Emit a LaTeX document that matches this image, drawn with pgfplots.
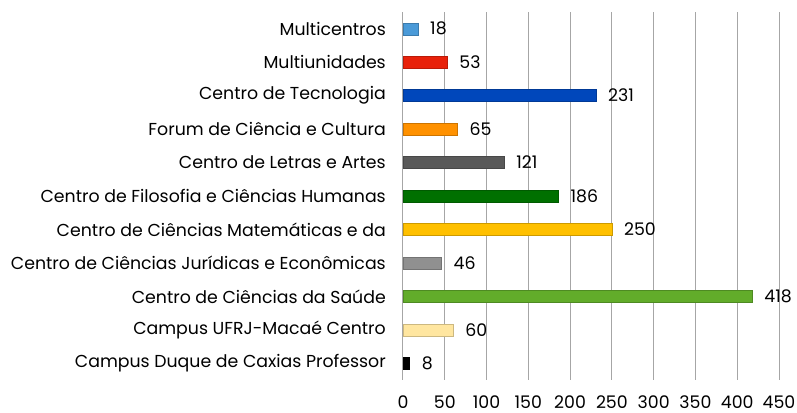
\documentclass[border=0pt]{standalone}
\usepackage{pgfplots}
\pgfplotsset{compat=1.18}
\usepackage{fontspec}
\setmainfont{Poppins}
\definecolor{c1}{HTML}{4A9AD8}
\definecolor{c2}{HTML}{E8210A}
\definecolor{c3}{HTML}{0047BB}
\definecolor{c4}{HTML}{FF9100}
\definecolor{c5}{HTML}{595959}
\definecolor{c6}{HTML}{007000}
\definecolor{c7}{HTML}{FFC000}
\definecolor{c8}{HTML}{909090}
\definecolor{c9}{HTML}{62AC2A}
\definecolor{c10}{HTML}{FFE6A0}
\definecolor{c11}{HTML}{000000}
\definecolor{gridc}{HTML}{A6A6A6}
\begin{document}
\begin{tikzpicture}
\useasboundingbox (0,0) rectangle (797bp,413bp);
\begin{axis}[
  at={(403bp,33bp)}, anchor=south west,
  scale only axis, width=376bp, height=368bp,
  xmin=0, xmax=450, ymin=-0.5, ymax=10.5,
  y dir=reverse,
  xbar, bar width=12bp, bar shift=0pt,
  axis line style={draw=none},
  xtick={0,50,...,450},
  ytick={0,...,10},
  yticklabels={Multicentros,Multiunidades,Centro de Tecnologia,Forum de Ciência e Cultura,Centro de Letras e Artes,Centro de Filosofia e Ciências Humanas,Centro de Ciências Matemáticas e da,Centro de Ciências Jurídicas e Econômicas,Centro de Ciências da Saúde,Campus UFRJ-Macaé Centro,Campus Duque de Caxias Professor},
  major tick length=0pt,
  xmajorgrids, major grid style={gridc, line width=1bp},
  /pgf/number format/assume math mode=true,
  tick label style={font=\fontsize{17.4}{19}\selectfont, text=black},
  yticklabel style={anchor=east, inner sep=0pt, xshift=-17bp},
  xticklabel style={anchor=center, inner sep=0pt, yshift=-22bp},
  nodes near coords,
  every node near coord/.append style={anchor=west, inner sep=0pt, xshift=12bp, font=\fontsize{17.4}{19}\selectfont, text=black},
  clip=false,
]
\addplot[fill=c1, draw=c1!80!black] coordinates {(18,0)};
\addplot[fill=c2, draw=c2!80!black] coordinates {(53,1)};
\addplot[fill=c3, draw=c3!80!black] coordinates {(231,2)};
\addplot[fill=c4, draw=c4!80!black] coordinates {(65,3)};
\addplot[fill=c5, draw=c5!80!black] coordinates {(121,4)};
\addplot[fill=c6, draw=c6!80!black] coordinates {(186,5)};
\addplot[fill=c7, draw=c7!80!black] coordinates {(250,6)};
\addplot[fill=c8, draw=c8!80!black] coordinates {(46,7)};
\addplot[fill=c9, draw=c9!80!black] coordinates {(418,8)};
\addplot[fill=c10, draw=c10!80!black] coordinates {(60,9)};
\addplot[fill=c11, draw=c11] coordinates {(8,10)};
\end{axis}
\end{tikzpicture}
\end{document}
